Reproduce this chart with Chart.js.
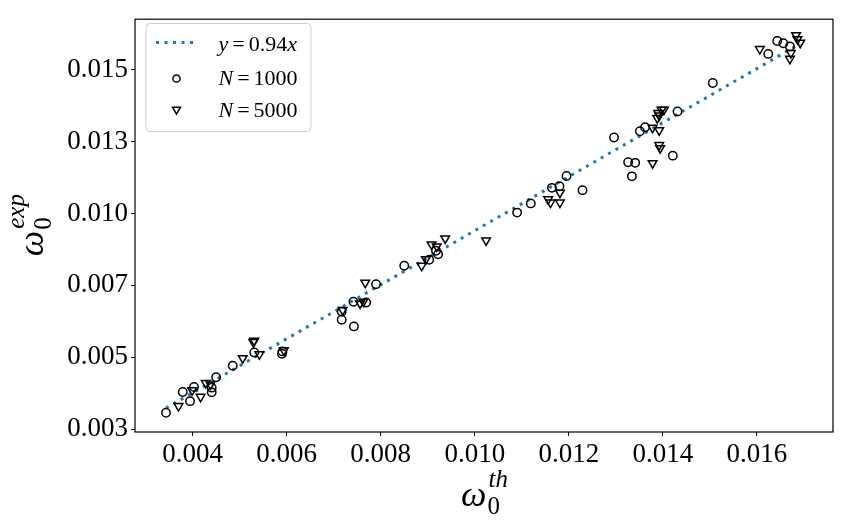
<!DOCTYPE html>
<html><head><meta charset="utf-8">
<script src="https://cdn.jsdelivr.net/npm/chart.js@4"></script>
<style>html,body{margin:0;padding:0;background:#fff}#wrap{width:844px;height:531px;position:relative}</style>
</head><body><div id="wrap"><canvas id="c" width="844" height="531"></canvas></div>
<script>
const xTickValues = [0.004, 0.006, 0.008, 0.010, 0.012, 0.014, 0.016];
const xTickLabels = ['0.004', '0.006', '0.008', '0.010', '0.012', '0.014', '0.016'];
const yTickValues = [0.0025, 0.005, 0.0075, 0.010, 0.0125, 0.015];
const yTickLabels = ['0.003', '0.005', '0.007', '0.010', '0.013', '0.015'];

const fitLabel = 'y = 0.94x';
const fitX = [0.003434, 0.01692];
const fitY = [0.003228, 0.015905];

const n1000Label = 'N = 1000';
const n1000X = [0.003434, 0.00379, 0.003945, 0.00403, 0.004406, 0.004406, 0.0045, 0.004853, 0.00531, 0.0059, 0.00591,
  0.00717, 0.00717, 0.00743, 0.00742, 0.00769, 0.0079, 0.0085, 0.00903, 0.00922, 0.009175,
  0.0109, 0.01119, 0.01164, 0.0118, 0.01195, 0.01229, 0.01296, 0.01326, 0.01341, 0.01334,
  0.01351, 0.01362, 0.01421, 0.01431, 0.01506, 0.01624, 0.01643, 0.01656, 0.0167];
const n1000Y = [0.003069, 0.003788, 0.00347, 0.00396, 0.003777, 0.00394, 0.0043, 0.0047, 0.00516, 0.00512, 0.0052,
  0.0063, 0.006585, 0.00607, 0.00693, 0.0069, 0.00754, 0.00818, 0.00839, 0.00858, 0.0087,
  0.01003, 0.01035, 0.01089, 0.010945, 0.0113, 0.01081, 0.01264, 0.01178, 0.01176, 0.01129,
  0.01286, 0.013, 0.01201, 0.01355, 0.01454, 0.01555, 0.016, 0.01592, 0.01581];

const n5000Label = 'N = 5000';
const n5000X = [0.0037, 0.00399, 0.00417, 0.00428, 0.00438, 0.005065, 0.00529, 0.00531, 0.00542, 0.00594,
  0.00719, 0.00756, 0.00763, 0.00767, 0.00887, 0.00896, 0.00908, 0.00919, 0.00937, 0.01024,
  0.01156, 0.01161, 0.01181, 0.01181, 0.01378, 0.01392, 0.01378, 0.01392, 0.01394, 0.01388,
  0.01392, 0.01397, 0.01402, 0.0139, 0.01606, 0.0167, 0.01683, 0.01686, 0.01692, 0.01672];
const n5000Y = [0.0033, 0.003846, 0.00362, 0.0041, 0.00405, 0.004966, 0.00553, 0.00557, 0.0051, 0.00524,
  0.00664, 0.00687, 0.00693, 0.00759, 0.00818, 0.00841, 0.00892, 0.00885, 0.00913, 0.00906,
  0.01049, 0.01038, 0.01072, 0.01038, 0.01175, 0.01289, 0.01298, 0.01238, 0.01227, 0.01332,
  0.01341, 0.01361, 0.01361, 0.01349, 0.01572, 0.01538, 0.0162, 0.01606, 0.01594, 0.01558];

const toPts = (xs, ys) => xs.map((x, i) => ({x: x, y: ys[i]}));
const BLUE = '#1f77b4';
const SERIF = "'Liberation Serif', 'Times New Roman', serif";
const tickFont = {family: SERIF, size: 27};

function drawSeq(ctx, x, y, segs) {
  let cx = x;
  for (const s of segs) {
    ctx.font = (s.italic ? 'italic ' : '') + s.size + 'px ' + SERIF;
    cx += (s.pre || 0);
    ctx.fillText(s.t, cx, y);
    cx += ctx.measureText(s.t).width + (s.post || 0);
  }
  return cx;
}
function drawOmega(ctx, cx, baseY, sup) {
  ctx.save();
  ctx.fillStyle = '#000';
  ctx.textBaseline = 'alphabetic';
  ctx.textAlign = 'left';
  ctx.font = 'italic 36px ' + SERIF;
  const wOm = ctx.measureText('\u03c9').width;
  ctx.font = '25px ' + SERIF;
  const wSub = ctx.measureText('0').width;
  ctx.font = 'italic 25px ' + SERIF;
  const wSup = ctx.measureText(sup).width;
  const total = wOm + 1 + Math.max(wSub, wSup);
  const x0 = cx - total / 2;
  ctx.font = 'italic 36px ' + SERIF;
  ctx.fillText('\u03c9', x0, baseY);
  ctx.font = '25px ' + SERIF;
  ctx.fillText('0', x0 + wOm + 1, baseY + 8);
  ctx.font = 'italic 25px ' + SERIF;
  ctx.fillText(sup, x0 + wOm + 2, baseY - 19);
  ctx.restore();
}

const decorPlugin = {
  id: 'decor',
  afterDraw(chart) {
    const ctx = chart.ctx;
    const a = chart.chartArea;
    // frame
    ctx.save();
    ctx.strokeStyle = '#000';
    ctx.lineWidth = 1.2;
    ctx.strokeRect(a.left, a.top, a.right - a.left, a.bottom - a.top);
    ctx.restore();
    // axis titles
    drawOmega(ctx, (a.left + a.right) / 2, 506, 'th');
    ctx.save();
    ctx.translate(43, (a.top + a.bottom) / 2);
    ctx.rotate(-Math.PI / 2);
    drawOmega(ctx, 0, 0, 'exp');
    ctx.restore();
    // legend
    ctx.save();
    const lx = 146, ly = 23.5, lw = 165, lh = 108, r = 4;
    ctx.beginPath();
    ctx.moveTo(lx + r, ly);
    ctx.arcTo(lx + lw, ly, lx + lw, ly + lh, r);
    ctx.arcTo(lx + lw, ly + lh, lx, ly + lh, r);
    ctx.arcTo(lx, ly + lh, lx, ly, r);
    ctx.arcTo(lx, ly, lx + lw, ly, r);
    ctx.closePath();
    ctx.fillStyle = 'rgba(255,255,255,0.8)';
    ctx.fill();
    ctx.strokeStyle = '#cccccc';
    ctx.lineWidth = 1;
    ctx.stroke();
    // line sample
    ctx.beginPath();
    ctx.setLineDash([3, 5.5]);
    ctx.strokeStyle = BLUE;
    ctx.lineWidth = 3;
    ctx.moveTo(156, 42.5);
    ctx.lineTo(197, 42.5);
    ctx.stroke();
    ctx.setLineDash([]);
    // circle sample
    ctx.beginPath();
    ctx.arc(176.5, 78.5, 3.6, 0, Math.PI * 2);
    ctx.strokeStyle = '#000';
    ctx.lineWidth = 1.5;
    ctx.stroke();
    // triangle sample
    ctx.beginPath();
    const tr = 4.6, tx = 176.5, ty = 109.5;
    ctx.moveTo(tx, ty + tr);
    ctx.lineTo(tx - tr * 0.866, ty - tr * 0.5);
    ctx.lineTo(tx + tr * 0.866, ty - tr * 0.5);
    ctx.closePath();
    ctx.stroke();
    ctx.fillStyle = '#000';
    ctx.textBaseline = 'alphabetic';
    ctx.textAlign = 'left';
    drawSeq(ctx, 218.5, 50.5, [{t: 'y', italic: true, size: 22, post: 4}, {t: '=', size: 22, post: 4}, {t: '0.94', size: 22}, {t: 'x', italic: true, size: 22}]);
    drawSeq(ctx, 218.5, 84.5, [{t: 'N', italic: true, size: 22, post: 4}, {t: '=', size: 22, post: 4}, {t: '1000', size: 22}]);
    drawSeq(ctx, 218.5, 116.5, [{t: 'N', italic: true, size: 22, post: 4}, {t: '=', size: 22, post: 4}, {t: '5000', size: 22}]);
    ctx.restore();
  }
};

new Chart(document.getElementById('c'), {
  type: 'scatter',
  data: {
    datasets: [
      {
        type: 'line', label: fitLabel, data: toPts(fitX, fitY), order: 3,
        borderColor: BLUE, borderWidth: 3, borderDash: [3, 5.5], pointRadius: 0, fill: false, showLine: true
      },
      {
        label: n1000Label, data: toPts(n1000X, n1000Y), order: 2,
        pointStyle: 'circle', pointRadius: 4.2, borderColor: '#000', borderWidth: 1.5,
        backgroundColor: 'rgba(0,0,0,0)'
      },
      {
        label: n5000Label, data: toPts(n5000X, n5000Y), order: 1,
        pointStyle: 'triangle', rotation: 180, pointRadius: 5, borderColor: '#000', borderWidth: 1.5,
        backgroundColor: 'rgba(0,0,0,0)'
      }
    ]
  },
  options: {
    responsive: false,
    animation: false,
    devicePixelRatio: 1,
    layout: {padding: {top: 13, right: 11, left: 0, bottom: 0}},
    plugins: {legend: {display: false}, tooltip: {enabled: false}, title: {display: false}},
    scales: {
      x: {
        type: 'linear', min: 0.002775, max: 0.017616,
        afterBuildTicks: s => { s.ticks = xTickValues.map(v => ({value: v})); },
        afterFit: s => { s.height = 99; },
        ticks: {font: tickFont, color: '#000', padding: 3, maxRotation: 0, autoSkip: false,
          callback: (v, i) => xTickLabels[i]},
        grid: {display: true, drawOnChartArea: false, drawTicks: true, tickLength: 4, color: '#000', tickWidth: 1},
        border: {display: false}
      },
      y: {
        type: 'linear', min: 0.002397, max: 0.016757,
        afterBuildTicks: s => { s.ticks = yTickValues.map(v => ({value: v})); },
        afterFit: s => { s.width = 135; },
        ticks: {font: tickFont, color: '#000', padding: 3, autoSkip: false,
          callback: (v, i) => yTickLabels[i]},
        grid: {display: true, drawOnChartArea: false, drawTicks: true, tickLength: 4, color: '#000', tickWidth: 1},
        border: {display: false}
      }
    }
  },
  plugins: [decorPlugin]
});
</script>
</body></html>
